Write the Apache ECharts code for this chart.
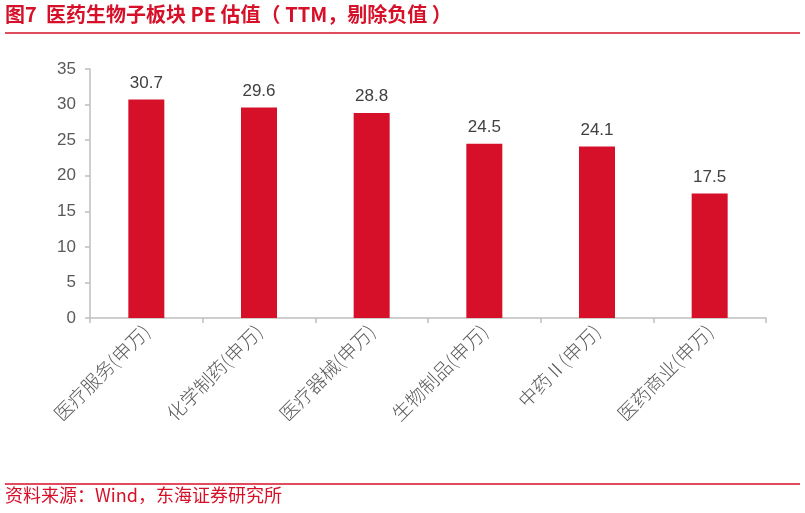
<!DOCTYPE html>
<html><head><meta charset="utf-8">
<script src="https://cdn.jsdelivr.net/npm/echarts@6/dist/echarts.min.js"></script>
<style>html,body{margin:0;padding:0;background:#fff}#c{width:805px;height:513px}</style>
</head><body><div id="c"></div>
<script>
const categories = ['医疗服务(申万)','化学制药(申万)','医疗器械(申万)','生物制品(申万)','中药Ⅱ(申万)','医药商业(申万)'];
const values = [30.7, 29.6, 28.8, 24.5, 24.1, 17.5];
const titleText = '图7  医药生物子板块 PE 估值（ TTM，剔除负值 ）';
const sourceText = '资料来源：Wind，东海证券研究所';
const red = '#D7102A';
const chart = echarts.init(document.getElementById('c'), null, {renderer:'canvas'});
chart.setOption({
  animation:false,
  backgroundColor:'#fff',
  grid:{left:90,right:39,top:69,bottom:195},
  xAxis:{type:'category',data:categories,
    axisLine:{lineStyle:{color:'#BFBFBF',width:1.5}},
    axisTick:{show:true,alignWithLabel:false,length:5,lineStyle:{color:'#BFBFBF',width:1.5}},
    axisLabel:{rotate:45,color:'#595959',fontSize:19,fontWeight:300,fontFamily:'Noto Sans CJK SC',margin:10,interval:0}
  },
  yAxis:{type:'value',min:0,max:35,interval:5,
    axisLine:{show:true,lineStyle:{color:'#BFBFBF',width:1.5}},
    axisTick:{show:true,length:5,inside:false,lineStyle:{color:'#BFBFBF',width:1.5}},
    splitLine:{show:false},
    axisLabel:{color:'#595959',fontSize:17,fontFamily:'Liberation Sans',margin:14}
  },
  series:[{type:'bar',data:values,barWidth:36,itemStyle:{color:red},
    label:{show:true,position:'top',distance:8,color:'#404040',fontSize:17,fontFamily:'Liberation Sans',formatter:p=>p.value.toFixed(1)}}],
  graphic:[
    {type:'text',left:5,top:4,style:{text:titleText,fill:red,fontSize:20,fontWeight:'bold',fontFamily:'Noto Sans CJK SC'}},
    {type:'line',shape:{x1:5,y1:33,x2:800,y2:33},style:{stroke:red,lineWidth:1.5}},
    {type:'line',shape:{x1:5,y1:484,x2:800,y2:484},style:{stroke:red,lineWidth:1.5}},
    {type:'text',left:5,top:486,style:{text:sourceText,fill:red,fontSize:18,fontFamily:'Noto Sans CJK SC'}}
  ]
});
</script></body></html>
